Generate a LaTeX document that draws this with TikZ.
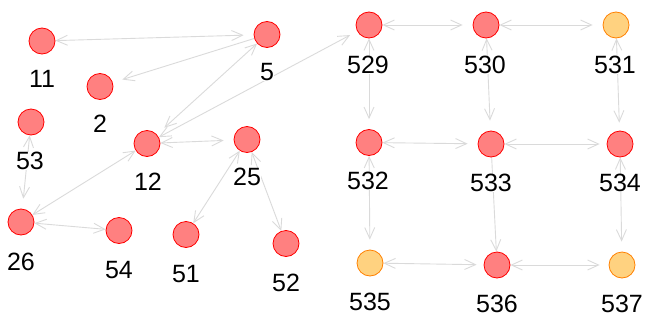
\documentclass[tikz,border=0pt]{standalone}
\usepackage{fontspec}
\setmainfont{Liberation Sans}
\usetikzlibrary{arrows.meta,backgrounds}
\definecolor{nodered}{RGB}{255,128,128}
\definecolor{nodeorange}{RGB}{255,210,128}
\definecolor{edgegray}{RGB}{218,218,218}
\begin{document}
\begin{tikzpicture}[x=1pt,y=-1pt,
  vred/.style={circle, draw=red, fill=nodered, minimum size=26pt, inner sep=0pt, line width=0.8pt},
  vorg/.style={circle, draw=orange, fill=nodeorange, minimum size=26pt, inner sep=0pt, line width=0.8pt},
  lab/.style={font=\fontsize{25}{25}\selectfont, fill=white, inner sep=0.5pt},
  barb/.tip={Straight Barb[length=11pt,width=10pt]},
  edge/.style={draw=edgegray, line width=0.9pt, barb-barb, shorten >=10pt},
  edgetouch/.style={draw=edgegray, line width=0.9pt, barb-barb},
  edgeone/.style={draw=edgegray, line width=0.9pt, -barb, shorten >=10pt},
  edgeonetouch/.style={draw=edgegray, line width=0.9pt, -barb}]
\useasboundingbox (0,0) rectangle (652,324);
% vertices
\node[vred] (n11) at (42,41) {};
\node[vred] (n2) at (100,86.5) {};
\node[vred] (n53) at (31,122) {};
\node[vred] (n5) at (267,34.5) {};
\node[vred] (n12) at (147,143.5) {};
\node[vred] (n25) at (247,139.5) {};
\node[vred] (n26) at (21,222) {};
\node[vred] (n54) at (119,230.5) {};
\node[vred] (n51) at (186,234.5) {};
\node[vred] (n52) at (286,243.5) {};
\node[vred] (n529) at (369,25) {};
\node[vred] (n530) at (486,25) {};
\node[vorg] (n531) at (616,25) {};
\node[vred] (n532) at (369,142.5) {};
\node[vred] (n533) at (491,144) {};
\node[vred] (n534) at (620,144) {};
\node[vorg] (n535) at (370,263) {};
\node[vred] (n536) at (497,265) {};
\node[vorg] (n537) at (622,265) {};
% labels
\node[lab] (l11) at (42,79) {11};
\node[lab] (l2) at (100,124) {2};
\node[lab] (l53) at (30,161) {53};
\node[lab] (l5) at (267,72) {5};
\node[lab] (l12) at (148,182) {12};
\node[lab] (l25) at (247,177) {25};
\node[lab] (l26) at (21,262) {26};
\node[lab] (l54) at (119,270) {54};
\node[lab] (l51) at (186,274) {51};
\node[lab] (l52) at (286,283) {52};
\node[lab] (l529) at (368,65) {529};
\node[lab] (l530) at (485,65) {530};
\node[lab] (l531) at (615,65) {531};
\node[lab] (l532) at (368,181) {532};
\node[lab] (l533) at (491,183) {533};
\node[lab] (l534) at (620,183) {534};
\node[lab] (l535) at (370,302) {535};
\node[lab] (l536) at (497,304) {536};
\node[lab] (l537) at (622,304) {537};
% edges
\begin{scope}[on background layer]
\draw[edge] (n11) -- (n5);
\draw[edgeone] (n5) -- (n2);
\draw[edge] (n5) -- (n12);
\draw[edge, shorten >=8pt] (n12) -- (n529);
\draw[edge] (n12) -- (n25);
\draw[edgetouch] (n12) -- (n26);
\draw[edge] (n53) -- (n26);
\draw[edgetouch] (n26) -- (n54);
\draw[edgetouch] (n25) -- (n51);
\draw[edgetouch] (n25) -- (n52);
\draw[edge] (n529) -- (n530);
\draw[edge] (n530) -- (n531);
\draw[edge] (n529) -- (n532);
\draw[edge] (n530) -- (n533);
\draw[edge, shorten >=8pt] (n531) -- (n534);
\draw[edge] (n532) -- (n533);
\draw[edge, shorten >=7pt] (n533) -- (n534);
\draw[edge] (n532) -- (n535);
\draw[edgeonetouch] (n533) -- (n536);
\draw[edge] (n534) -- (n537);
\draw[edge, shorten >=7pt] (n535) -- (n536);
\draw[edge, shorten >=9pt] (n536) -- (n537);
\end{scope}
\end{tikzpicture}
\end{document}
